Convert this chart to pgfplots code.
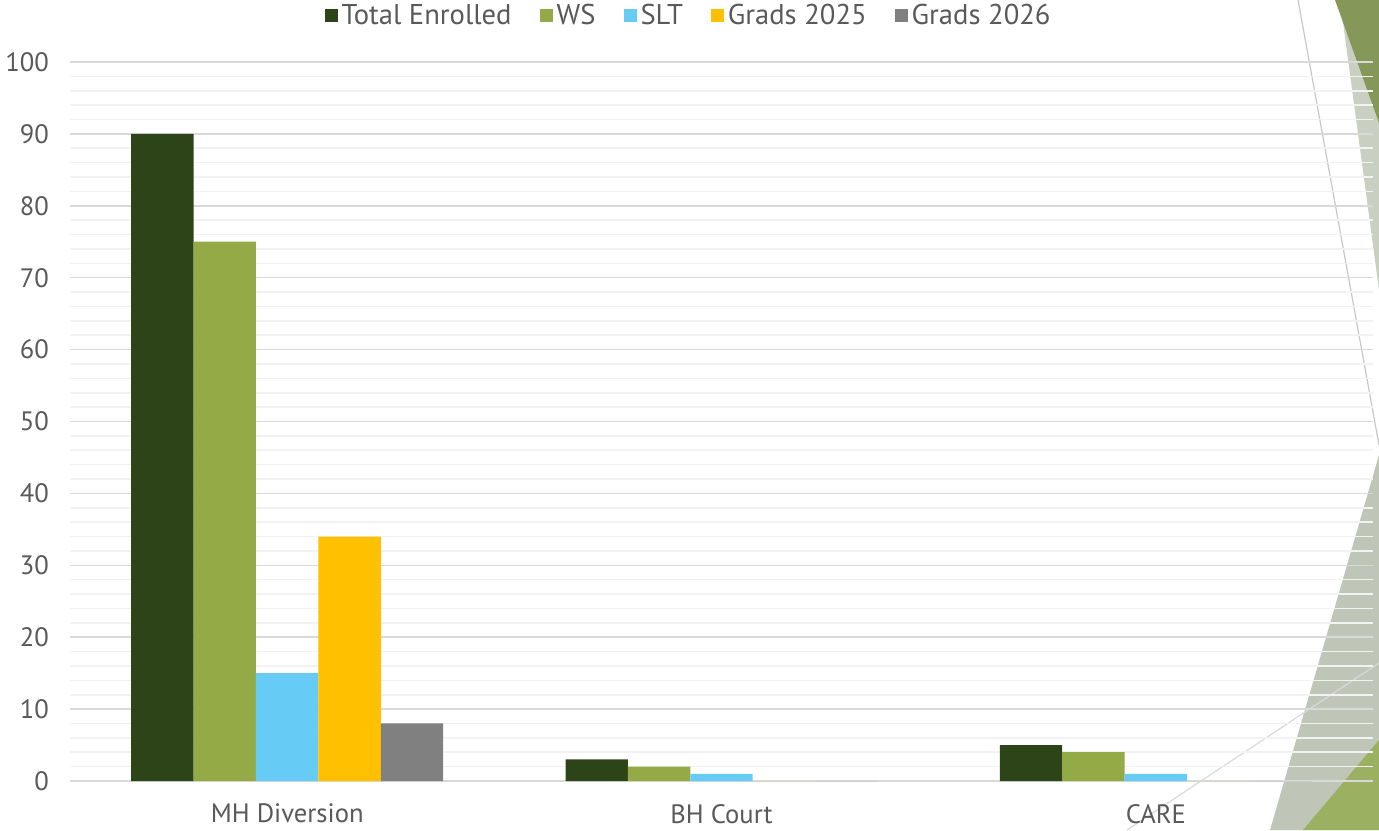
\documentclass[border=0pt]{standalone}
\usepackage{fontspec}
\setmainfont{PT Sans}
\usepackage{pgfplots}
\pgfplotsset{compat=1.18}
\definecolor{cTot}{HTML}{2C4418}
\definecolor{cWS}{HTML}{94AA47}
\definecolor{cSLT}{HTML}{66CCF5}
\definecolor{cG25}{HTML}{FFC000}
\definecolor{cG26}{HTML}{808080}
\definecolor{txt}{HTML}{595959}
\definecolor{gmaj}{HTML}{D9D9D9}
\definecolor{gmin}{HTML}{F2F2F2}
\definecolor{dOlive}{HTML}{86975A}
\definecolor{lSliver}{HTML}{C9D0C2}
\definecolor{gGreen}{HTML}{BFC6B8}
\definecolor{lGreen}{HTML}{9CB062}
\begin{document}
\begin{tikzpicture}[x=0.5pt,y=0.5pt]
\path[use as bounding box] (0,0) rectangle (1379,830);
% slide decorations
\fill[lSliver] (1340,830) -- (1379,830) -- (1379,540) -- cycle;
\fill[dOlive] (1335,830) -- (1379,830) -- (1379,707) -- cycle;
\fill[gGreen] (1270,0) -- (1379,375) -- (1379,0) -- cycle;
\fill[lGreen] (1303,0) -- (1379,90) -- (1379,0) -- cycle;
\draw[gmaj!80!gray, line width=0.6pt] (1298,830) -- (1379,385);
\draw[gmaj, line width=0.6pt] (1127,0) -- (1379,167);
\begin{axis}[
  at={(35pt,24.5pt)}, anchor=south west,
  width=651.5pt, height=359.5pt, scale only axis,
  xmin=-0.5, xmax=2.5, ymin=0, ymax=100,
  ybar=0pt, bar width=31.2pt,
  xtick={0,1,2}, xticklabels={MH Diversion,BH Court,CARE},
  ytick={0,10,...,100}, minor y tick num=4,
  ymajorgrids, yminorgrids,
  major grid style={draw=gmaj, line width=0.8pt},
  minor grid style={draw=gmin, line width=0.8pt},
  axis line style={draw=none},
  major tick length=0pt, minor tick length=0pt,
  /pgf/number format/assume math mode=true,
  tick label style={font=\fontsize{13.3}{15}\selectfont, text=txt},
  yticklabel style={xshift=-7pt},
  xticklabel style={yshift=-8pt},
  legend columns=5,
  legend style={draw=none, fill=none, at={(0.4755,1.0)}, anchor=south, yshift=13pt,
    font=\fontsize{14.3}{16}\selectfont, text=txt,
    /tikz/every even column/.append style={column sep=12pt}},
  legend image code/.code={\fill[#1] (0pt,-3.25pt) rectangle (6.5pt,3.25pt);},
  every axis plot/.append style={draw=none},
]
\addplot[fill=cTot] coordinates {(0,90) (1,3) (2,5)};
\addplot[fill=cWS] coordinates {(0,75) (1,2) (2,4)};
\addplot[fill=cSLT] coordinates {(0,15) (1,1) (2,1)};
\addplot[fill=cG25] coordinates {(0,34) (1,0) (2,0)};
\addplot[fill=cG26] coordinates {(0,8) (1,0) (2,0)};
\legend{Total Enrolled,WS,SLT,Grads 2025,Grads 2026}
\end{axis}
\end{tikzpicture}
\end{document}
